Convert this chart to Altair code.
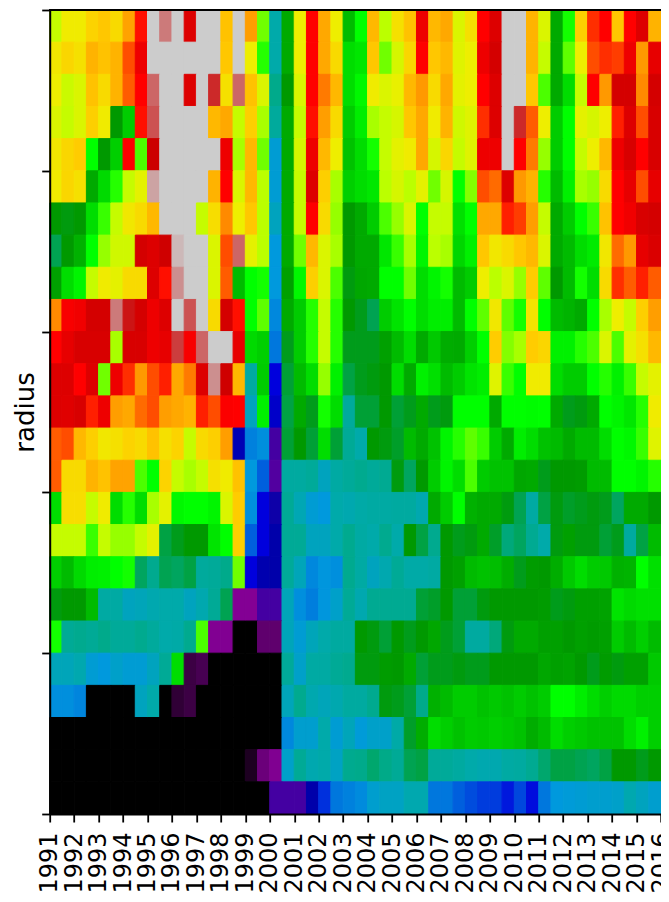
import altair as alt
import pandas as pd

years = list(range(1991, 2017))
radius_ticks = [0, 5, 10, 15, 20, 25]

row_00 = [.66,.705,.705,.74,.755,.73,.79,.845,1,.98,1,.9,1,1,.76,1,.795, .63,.35,.475,.7,.85,.785,.7,.5,.6,.77,.65,.72,.76,.875,.77,.785,.68, .72,.85,.9,1,1,.775,.68,.475,.605,.745,.835,.85,.755,.85,.9,.775]
row_01 = [.71,.735,.72,.775,.76,.775,.825,.875,1,1,1,1,1,1,.755,1,.7, .61,.35,.475,.7,.85,.785,.73,.55,.565,.755,.63,.675,.735,.85,.755,.77,.685, .7,.875,.925,1,1,.775,.66,.475,.625,.7,.825,.835,.83,.875,.8,.885]
row_02 = [.7,.665,.68,.76,.73,.775,.82,.85,.975,1,1,.9,1,.96,.72,.975,.76, .68,.395,.45,.68,.85,.81,.77,.55,.59,.705,.68,.695,.77,.8,.73,.785,.69, .7,.85,.9,1,1,.755,.62,.475,.55,.66,.85,.8,.925,.925,.805,.925]
row_03 = [.68,.66,.68,.745,.705,.45,.525,.845,.97,1,1,1,1,.77,.785,.66,.745, .645,.37,.475,.66,.845,.795,.73,.525,.575,.645,.66,.675,.755,.785,.705,.775,.67, .685,.835,.9,1,.96,.82,.7,.525,.6,.69,.675,.7,.84,.9,.825,.915]
row_04 = [.71,.735,.75,.6,.45,.53,.85,.62,.95,1,1,1,1,1,.875,.645,.77, .63,.31,.475,.675,.875,.77,.7,.51,.55,.605,.66,.69,.705,.785,.675,.735,.66, .685,.875,.875,1,.85,.81,.64,.525,.6,.66,.7,.77,.875,.915,.85,.915]
row_05 = [.705,.735,.72,.475,.545,.61,.66,.69,.99,1,1,1,1,.775,.85,.68,.77, .65,.31,.475,.66,.9,.745,.645,.53,.55,.565,.65,.675,.65,.69,.63,.675,.6, .635,.825,.815,.9,.8,.775,.61,.5,.58,.645,.64,.73,.85,.885,.825,.885]
row_06 = [.45,.445,.45,.55,.615,.66,.71,.73,.77,1,1,1,.66,.725,.805,.7,.755, .65,.33,.475,.66,.85,.73,.64,.45,.475,.525,.62,.64,.68,.6,.66,.66,.555, .6,.785,.785,.84,.83,.795,.66,.475,.525,.6,.615,.76,.85,.87,.915,.925]
row_07 = [.42,.45,.485,.6,.64,.67,.67,.925,.9,.94,.995,1,1,.68,.825,.975,.69, .65,.3,.475,.63,.77,.68,.645,.45,.475,.475,.565,.615,.645,.585,.65,.645,.54, .58,.755,.71,.73,.755,.77,.68,.475,.5,.55,.57,.71,.815,.8,.885,.91]
row_08 = [.46,.55,.585,.66,.705,.69,.73,.73,.9,.845,.985,1,1,.68,.82,.5,.6, .605,.3,.46,.59,.745,.68,.62,.445,.47,.475,.6,.6,.63,.55,.585,.605,.5, .525,.7,.65,.68,.64,.75,.625,.45,.5,.605,.55,.73,.835,.82,.84,.82]
row_09 = [.805,.86,.87,.925,.925,.98,.955,.925,.875,.9,1,.97,1,.73,.925,.845,.6, .625,.275,.475,.525,.61,.66,.61,.45,.44,.42,.525,.56,.6,.55,.575,.575,.5, .6,.625,.71,.625,.605,.715,.6,.5,.49,.475,.6,.645,.7,.66,.745,.795]
row_10 = [.85,.885,.915,.915,.915,.645,.915,.915,.875,.885,.965,.86,.975,1,1,.885,.545, .53,.25,.44,.525,.61,.66,.61,.44,.44,.44,.46,.5,.55,.475,.52,.48,.475, .53,.6,.75,.635,.645,.75,.735,.58,.58,.61,.62,.68,.62,.69,.72,.77]
row_11 = [.9,.9,.85,.9,.63,.875,.835,.8,.825,.84,.785,.81,.9,.985,.94,.77,.36, .525,.2,.43,.5,.55,.64,.58,.425,.44,.445,.45,.55,.475,.58,.555,.5,.525, .56,.575,.685,.615,.6,.705,.705,.55,.525,.525,.6,.61,.58,.615,.66,.69]
row_12 = [.9,.895,.915,.84,.875,.795,.785,.815,.825,.795,.785,.775,.84,.825,.855,.85,.33, .58,.18,.425,.475,.44,.605,.55,.37,.43,.43,.45,.43,.44,.475,.44,.445,.6, .6,.6,.475,.6,.6,.595,.6,.475,.44,.445,.475,.6,.585,.565,.61,.705]
row_13 = [.82,.825,.77,.745,.71,.72,.74,.73,.76,.72,.74,.66,.73,.745,.795,.16,.265, .285,.125,.43,.45,.43,.55,.43,.38,.35,.45,.445,.435,.5,.475,.51,.585,.61, .625,.615,.525,.475,.575,.55,.51,.5,.475,.5,.5,.55,.6,.59,.615,.685]
row_14 = [.82,.73,.73,.775,.76,.79,.79,.62,.6,.74,.66,.645,.66,.72,.705,.76,.3, .24,.12,.365,.365,.375,.33,.36,.375,.39,.375,.385,.445,.415,.45,.525,.585,.55, .62,.525,.51,.51,.47,.475,.44,.45,.45,.455,.5,.5,.6,.6,.585,.61]
row_15 = [.55,.725,.725,.66,.705,.55,.61,.55,.645,.69,.59,.6,.6,.585,.68,.75,.285, .2,.145,.38,.34,.31,.3,.35,.345,.355,.36,.36,.365,.365,.345,.475,.525,.6, .485,.475,.475,.445,.42,.36,.425,.445,.435,.44,.445,.44,.415,.475,.475,.45]
row_16 = [.66,.66,.66,.615,.66,.64,.64,.66,.69,.425,.44,.45,.45,.56,.6,.745,.24, .2,.15,.38,.38,.33,.33,.35,.39,.36,.35,.39,.35,.45,.425,.39,.45,.44, .445,.475,.435,.405,.415,.385,.35,.445,.46,.445,.445,.43,.44,.365,.425,.5]
row_17 = [.53,.5,.545,.575,.58,.6,.605,.415,.39,.42,.415,.425,.37,.375,.395,.63,.2, .155,.15,.375,.335,.275,.295,.285,.39,.36,.33,.345,.38,.355,.355,.36,.45,.46, .5,.51,.505,.48,.44,.455,.45,.48,.52,.55,.525,.52,.485,.49,.6,.555]
row_18 = [.445,.45,.45,.5,.36,.36,.33,.335,.345,.35,.35,.33,.345,.38,.42,.085,.085, .125,.125,.335,.285,.26,.295,.32,.38,.345,.385,.385,.385,.385,.43,.435,.45,.43, .43,.445,.45,.45,.45,.45,.455,.44,.445,.46,.46,.465,.56,.545,.555,.555]
row_19 = [.605,.38,.39,.38,.395,.375,.375,.39,.37,.35,.355,.39,.62,.08,.08,0,0, .04,.04,.335,.31,.335,.35,.365,.365,.45,.445,.43,.45,.44,.45,.47,.44,.43, .365,.365,.405,.445,.475,.475,.46,.46,.45,.46,.455,.46,.525,.5,.53,.5]
row_20 = [.335,.335,.345,.31,.3,.32,.31,.31,.33,.38,.55,.025,.03,0,0,0,0, 0,0,.375,.32,.36,.36,.38,.39,.445,.445,.455,.45,.475,.43,.44,.44,.445, .44,.44,.45,.45,.45,.45,.47,.46,.465,.45,.44,.455,.445,.46,.46,.52]
row_21 = [.285,.285,.27,0,0,0,0,.33,.35,0,.02,.025,0,0,0,0,0, 0,0,.335,.39,.345,.335,.345,.365,.365,.39,.445,.44,.43,.395,.485,.5,.525, .525,.51,.52,.51,.525,.51,.525,.6,.6,.575,.55,.53,.545,.545,.53,.53]
row_22 = [0,0,0,0,0,0,0,0,0,0,0,0,0,0,0,0,0, 0,0,.275,.315,.315,.35,.31,.335,.305,.32,.32,.355,.435,.48,.55,.53,.51, .525,.52,.53,.52,.51,.48,.5,.55,.53,.52,.51,.51,.51,.55,.58,.53]
row_23 = [0,0,0,0,0,0,0,0,0,0,0,0,0,0,0,0,.012, .045,.075,.32,.38,.345,.35,.325,.39,.395,.41,.4,.38,.42,.425,.375,.375,.365, .35,.345,.345,.36,.365,.385,.41,.425,.425,.42,.415,.425,.45,.45,.44,.45]
row_24 = [0,0,0,0,0,0,0,0,0,0,0,0,0,0,0,0,0, 0,.125,.125,.125,.15,.22,.25,.265,.28,.315,.325,.325,.345,.345,.25,.25,.24, .232,.225,.225,.21,.23,.205,.25,.3,.305,.31,.315,.315,.32,.345,.33,.315]

rows = [row_00, row_01, row_02, row_03, row_04, row_05, row_06, row_07, row_08,
        row_09, row_10, row_11, row_12, row_13, row_14, row_15, row_16, row_17,
        row_18, row_19, row_20, row_21, row_22, row_23, row_24]

cmap_domain = [0, .05, .1, .15, .2, .25, .3, .35, .4, .45, .5, .55, .6, .65, .7, .75, .8, .85, .9, .95, 1]
cmap_range = ["#000000", "#770088", "#880099", "#0000aa", "#0000dd", "#0077dd", "#0099dd",
              "#00aaaa", "#00aa88", "#009900", "#00bb00", "#00dd00", "#00ff00", "#bbff00",
              "#eeee00", "#ffcc00", "#ff9900", "#ff0000", "#dd0000", "#cc0000", "#cccccc"]

records = []
for r, row in enumerate(rows):
    assert len(row) == 50, r
    radius = len(rows) - 1 - r
    for c, v in enumerate(row):
        t = years[0] + c / 2
        records.append({"t": t, "t2": t + .5, "r": radius, "r2": radius + 1, "v": v})
df = pd.DataFrame(records)

cmap = alt.Scale(domain=cmap_domain, range=cmap_range, interpolate="rgb")

heat = alt.Chart(df).mark_rect(strokeWidth=1).encode(
    x=alt.X("t:Q",
            scale=alt.Scale(domain=[years[0], years[-1]], nice=False, zero=False),
            axis=alt.Axis(values=years, format="d", title=None, labelAngle=-90,
                          labelFontSize=24, labelFont="DejaVu Sans", labelColor="black",
                          labelPadding=10, labelOverlap=False, labelFlush=False,
                          labelBound=False, tickSize=8, tickWidth=1.8, tickColor="black",
                          domainColor="black", domainWidth=2, grid=False, zindex=1)),
    x2="t2:Q",
    y=alt.Y("r:Q",
            scale=alt.Scale(domain=[0, 25], nice=False, zero=True),
            axis=alt.Axis(values=radius_ticks, title="radius", labels=False,
                          titleFontSize=26, titleFont="DejaVu Sans", titleFontWeight="normal",
                          titleColor="black", titlePadding=2, tickSize=8, tickWidth=1.8,
                          tickColor="black", domainColor="black", domainWidth=2,
                          grid=False, zindex=1)),
    y2="r2:Q",
    color=alt.Color("v:Q", scale=cmap, legend=None),
    stroke=alt.Color("v:Q", scale=cmap, legend=None),
)

top_spine = alt.Chart(df).mark_rule(color="black", strokeWidth=2).encode(
    y=alt.value(0), x=alt.value(0), x2=alt.value(611.3))

chart = alt.layer(heat, top_spine).properties(
    width=611.3, height=804,
    autosize=alt.AutoSizeParams(type="none"),
    padding={"left": 41.7, "top": 2, "right": 0, "bottom": 88},
).configure_view(stroke=None)

chart.save("out.html", embed_options={"renderer": "svg", "actions": False})
